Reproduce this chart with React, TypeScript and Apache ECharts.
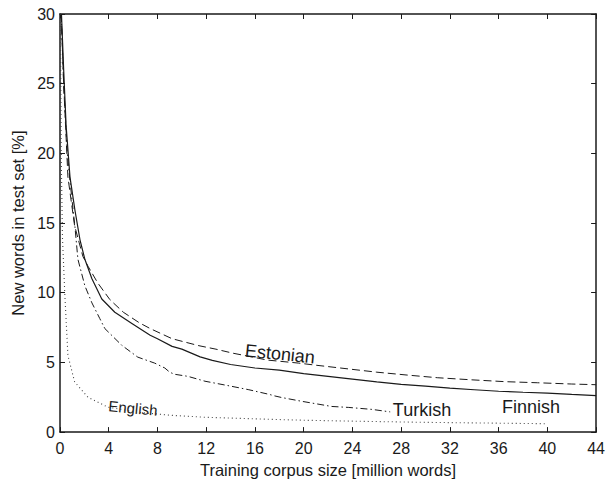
import React, { useEffect, useRef } from "react";
import * as echarts from "echarts";

const xTicks = [0, 4, 8, 12, 16, 20, 24, 28, 32, 36, 40, 44];
const yTicks = [0, 5, 10, 15, 20, 25, 30];

const finnish: number[][] = [
  [0.12, 30], [0.3, 26], [0.5, 22], [0.82, 18.3], [1.23, 15.9], [1.64, 13.8], [2.04, 12.4],
  [2.62, 11.0], [3.43, 9.55], [4.5, 8.6], [5.9, 7.8], [7.4, 6.95], [8, 6.7], [9.2, 6.15],
  [10, 5.95], [11.5, 5.4], [12.5, 5.15], [14, 4.85], [16, 4.6], [18, 4.45], [20, 4.2],
  [22, 4.0], [24, 3.8], [26, 3.6], [28, 3.42], [30, 3.3], [32, 3.15], [34, 3.04],
  [36, 2.93], [38, 2.86], [40, 2.8], [42, 2.7], [44, 2.62],
];

const estonian: number[][] = [
  [0.1, 30], [0.3, 25], [0.65, 18.3], [1.2, 14.8], [1.88, 12.6], [2.3, 11.9], [3.1, 10.7],
  [4.1, 9.5], [5.2, 8.6], [6.5, 7.85], [7.4, 7.43], [9.2, 6.7], [11.4, 6.2], [12.8, 5.95],
  [14.2, 5.66], [16, 5.35], [17, 5.17], [19.6, 4.95], [21, 4.8], [23, 4.6], [26, 4.3],
  [28.4, 4.1], [31, 3.9], [33.8, 3.75], [36.5, 3.62], [39.2, 3.54], [42, 3.45], [44, 3.4],
];

const turkish: number[][] = [
  [0.1, 30], [0.3, 25], [0.6, 20], [0.82, 18], [1.23, 14.7], [1.47, 12.4], [2.04, 10.5],
  [2.62, 9.27], [3.27, 8.14], [3.68, 7.43], [5.07, 6.23], [6.38, 5.38], [7.77, 4.95],
  [8.6, 4.6], [9.0, 4.3], [9.4, 4.15], [10.5, 4.0], [11.9, 3.65], [12.8, 3.5], [14, 3.3],
  [15.5, 3.04], [17.2, 2.7], [17.6, 2.6], [18.2, 2.48], [19.9, 2.2], [22.3, 1.84],
  [23.7, 1.77], [25.6, 1.63], [27.1, 1.45],
];

const english: number[][] = [
  [0.03, 30], [0.1, 20], [0.2, 14], [0.4, 9.8], [0.65, 5.5], [1.2, 3.6], [2.3, 2.5],
  [3.9, 1.8], [6.4, 1.42], [9.2, 1.2], [12, 1.06], [16, 0.95], [20, 0.85], [25, 0.77],
  [30, 0.7], [35, 0.65], [40, 0.6],
];

const FONT = "'Liberation Sans', Arial, Helvetica, sans-serif";
const INK = "#1a1a1a";

export default function App() {
  const ref = useRef<HTMLDivElement>(null);
  useEffect(() => {
    if (!ref.current) return;
    const chart = echarts.init(ref.current, undefined, { renderer: "svg" });
    const axisCommon = {
      type: "value" as const,
      axisLine: { show: true, onZero: false, lineStyle: { color: INK, width: 1.5 } },
      axisTick: { show: true, inside: true, length: 5, lineStyle: { color: INK, width: 1 } },
      splitLine: { show: false },
    };
    const lineBase = {
      type: "line" as const,
      showSymbol: false,
      symbol: "none",
      clip: true,
      silent: true,
    };
    chart.setOption({
      animation: false,
      backgroundColor: "#ffffff",
      textStyle: { fontFamily: FONT },
      grid: { left: 60, top: 14, right: 10, bottom: 45, containLabel: false },
      xAxis: [
        {
          ...axisCommon,
          position: "bottom",
          min: xTicks[0],
          max: xTicks[xTicks.length - 1],
          interval: 4,
          axisLabel: { fontSize: 16, color: INK, margin: 8, fontFamily: FONT },
          name: "Training corpus size [million words]",
          nameLocation: "middle",
          nameGap: 27,
          nameTextStyle: { fontSize: 16.5, color: INK, fontFamily: FONT },
        },
        {
          ...axisCommon,
          position: "top",
          min: xTicks[0],
          max: xTicks[xTicks.length - 1],
          interval: 4,
          axisLabel: { show: false },
        },
      ],
      yAxis: [
        {
          ...axisCommon,
          position: "left",
          min: yTicks[0],
          max: yTicks[yTicks.length - 1],
          interval: 5,
          axisLabel: { fontSize: 16, color: INK, margin: 5, fontFamily: FONT },
          name: "New words in test set [%]",
          nameLocation: "middle",
          nameGap: 33,
          nameTextStyle: { fontSize: 16.5, color: INK, fontFamily: FONT },
        },
        {
          ...axisCommon,
          position: "right",
          min: yTicks[0],
          max: yTicks[yTicks.length - 1],
          interval: 5,
          axisLabel: { show: false },
        },
      ],
      series: [
        { ...lineBase, name: "English", data: english, lineStyle: { color: "#444", width: 1.1, type: [1, 3] } },
        { ...lineBase, name: "Turkish", data: turkish, lineStyle: { color: INK, width: 1, type: [7, 3, 1.5, 3] } },
        { ...lineBase, name: "Estonian", data: estonian, lineStyle: { color: INK, width: 1, type: [8, 4] } },
        { ...lineBase, name: "Finnish", data: finnish, lineStyle: { color: INK, width: 1.2, type: "solid" } },
      ],
      graphic: [
        { type: "text", x: 280, y: 354, rotation: -0.1, style: { text: "Estonian", fontSize: 18, fill: INK, fontFamily: FONT, align: "center", verticalAlign: "middle" } },
        { type: "text", x: 133, y: 408, rotation: -0.09, style: { text: "English", fontSize: 15, fill: INK, fontFamily: FONT, align: "center", verticalAlign: "middle" } },
        { type: "text", x: 422, y: 410, style: { text: "Turkish", fontSize: 18, fill: INK, fontFamily: FONT, align: "center", verticalAlign: "middle" } },
        { type: "text", x: 531, y: 407, style: { text: "Finnish", fontSize: 18, fill: INK, fontFamily: FONT, align: "center", verticalAlign: "middle" } },
      ],
    });
    return () => chart.dispose();
  }, []);
  return (
    <div
      ref={ref}
      style={{ position: "fixed", left: 0, top: 0, width: 608, height: 483, background: "#fff" }}
    />
  );
}
